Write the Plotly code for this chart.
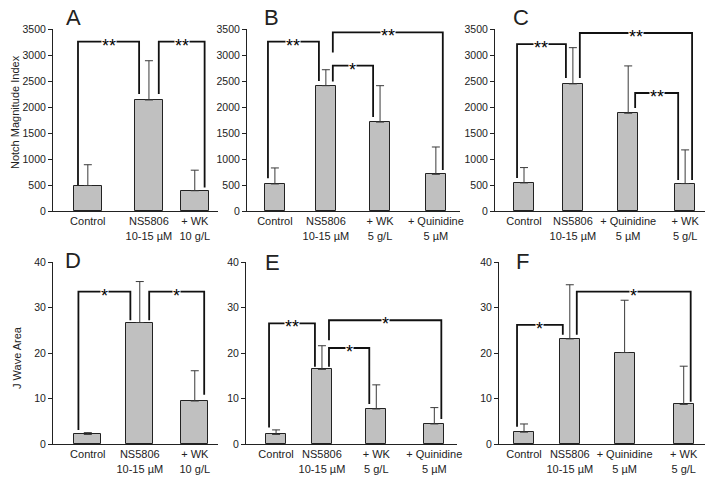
import plotly.graph_objects as go

# ---------------- data ----------------
cats_A = ["Control", "NS5806<br>10-15 µM", "+ WK<br>10 g/L"]
cats_B = ["Control", "NS5806<br>10-15 µM", "+ WK<br>5 g/L", "+ Quinidine<br>5 µM"]
cats_C = ["Control", "NS5806<br>10-15 µM", "+ Quinidine<br>5 µM", "+ WK<br>5 g/L"]

nmi_A = [490, 2135, 390]
nmi_A_err = [400, 755, 395]
nmi_B = [520, 2410, 1710, 705]
nmi_B_err = [308, 307, 700, 526]
nmi_C = [540, 2445, 1880, 527]
nmi_C_err = [295, 696, 910, 648]

jwa_D = [2.1, 26.7, 9.45]
jwa_D_err = [0.4, 9.0, 6.65]
jwa_E = [2.1, 16.4, 7.7, 4.4]
jwa_E_err = [1.0, 5.2, 5.3, 3.6]
jwa_F = [2.6, 23.1, 20.1, 8.7]
jwa_F_err = [1.8, 11.9, 11.5, 8.4]

# significance brackets: (bar i, side i, bar j, side j, level, leg bottom i, leg bottom j, label)
sig_A = [(0, -1, 1, -1, 3256, 500, 2250, "**"), (1, 1, 2, 1, 3256, 2250, 450, "**")]
sig_B = [(0, -1, 1, -1, 3256, 630, 2500, "**"), (1, 1, 3, 1, 3436, 3050, 790, "**"),
         (1, 1, 2, -1, 2795, 2490, 1810, "*")]
sig_C = [(0, -1, 1, -1, 3211, 635, 2558, "**"), (1, 1, 3, 1, 3423, 2558, 596, "**"),
         (2, 1, 3, -1, 2269, 1981, 596, "**")]
sig_D = [(0, -1, 1, -1, 33.5, 3.1, 27.2, "*"), (1, 1, 2, 1, 33.5, 27.2, 10.8, "*")]
sig_E = [(0, -1, 1, -1, 26.5, 3.6, 17.0, "**"), (1, 1, 3, 1, 27.2, 22.8, 5.5, "*"),
         (1, 1, 2, -1, 21.1, 17.0, 8.8, "*")]
sig_F = [(0, -1, 1, -1, 26.2, 3.8, 24.0, "*"), (1, 1, 3, 1, 33.5, 24.0, 9.3, "*")]

# ---------------- layout (positions/styles) ----------------
W, H = 714, 488
FONT = "Liberation Sans, Arial, sans-serif"
BAR_FILL = "#c0c0c0"
TXT = "#222222"

panels = [
    # name, cats, vals, errs, sigs, slot positions, x range, bar width, x px domain, row, yrange, dtick, letter pos
    ("A", cats_A, nmi_A, nmi_A_err, sig_A, [0, 1, 1.75], [-0.57, 2.13], 0.46, (53, 218), 1, [0, 3500], 500, (73, 18)),
    ("B", cats_B, nmi_B, nmi_B_err, sig_B, [0, 0.95, 1.96, 3], [-0.52, 3.45], 0.37, (247, 460), 1, [0, 3500], 500, (271, 18)),
    ("C", cats_C, nmi_C, nmi_C_err, sig_C, [0, 0.91, 1.94, 3], [-0.54, 3.37], 0.37, (495, 705), 1, [0, 3500], 500, (521, 18)),
    ("D", cats_A, jwa_D, jwa_D_err, sig_D, [0, 0.85, 1.75], [-0.57, 2.13], 0.44, (53, 218), 2, [0, 40], 10, (73, 260)),
    ("E", cats_B, jwa_E, jwa_E_err, sig_E, [0, 0.87, 1.9, 3], [-0.57, 3.43], 0.38, (246, 457), 2, [0, 40], 10, (272, 262)),
    ("F", cats_C, jwa_F, jwa_F_err, sig_F, [0, 0.86, 1.89, 3], [-0.47, 3.40], 0.375, (499, 705), 2, [0, 40], 10, (522, 261)),
]
row_dom = {1: (29, 211), 2: (262, 444)}

fig = go.Figure()
annotations = []
layout_axes = {}

for k, (name, cats, vals, errs, sigs, pos, xr, bw, xpx, row, yr, dt, lp) in enumerate(panels):
    idx = "" if k == 0 else str(k + 1)
    xa, ya = "x" + idx, "y" + idx
    fig.add_trace(go.Bar(
        x=pos, y=vals, width=bw, xaxis=xa, yaxis=ya,
        marker=dict(color=BAR_FILL, line=dict(color="#222222", width=1)),
        error_y=dict(type="data", array=errs, arrayminus=[0] * len(errs), symmetric=False,
                     color="#3a3a3a", thickness=1, width=4),
        showlegend=False, hoverinfo="skip"))
    off = 0.35 * bw
    for (i, si, j, sj, lev, bi, bj, lab) in sigs:
        x1 = pos[i] + si * off
        x2 = pos[j] + sj * off
        fig.add_trace(go.Scatter(
            x=[x1, x1, x2, x2], y=[bi, lev, lev, bj], mode="lines",
            line=dict(color="#111111", width=1.8), xaxis=xa, yaxis=ya,
            showlegend=False, hoverinfo="skip"))
        annotations.append(dict(
            x=(x1 + x2) / 2, y=lev, xref=xa, yref=ya, text=lab, showarrow=False,
            font=dict(family=FONT, size=18, color="#000000"), bgcolor="white",
            borderpad=0, yshift=-4, xanchor="center", yanchor="middle"))
    y0, y1 = row_dom[row]
    layout_axes["xaxis" + idx] = dict(
        domain=[xpx[0] / W, xpx[1] / W], range=xr, anchor=ya, automargin=False,
        tickvals=pos, ticktext=cats, ticks="", showline=True, linecolor="#222222",
        linewidth=1, showgrid=False, zeroline=False,
        tickfont=dict(family=FONT, size=11, color=TXT), fixedrange=True)
    layout_axes["yaxis" + idx] = dict(
        domain=[1 - y1 / H, 1 - y0 / H], range=yr, dtick=dt, anchor=xa, automargin=False,
        ticks="outside", ticklen=4, tickwidth=1, tickcolor="#222222",
        showline=True, linecolor="#222222", linewidth=1, showgrid=False, zeroline=False,
        tickfont=dict(family=FONT, size=10.5, color=TXT), fixedrange=True)
    annotations.append(dict(
        x=lp[0] / W, y=1 - lp[1] / H, xref="paper", yref="paper", text=name,
        showarrow=False, font=dict(family=FONT, size=22, color=TXT),
        xanchor="center", yanchor="middle"))

annotations.append(dict(x=15 / W, y=1 - 112 / H, xref="paper", yref="paper",
                        text="Notch Magnitude Index", textangle=-90, showarrow=False,
                        font=dict(family=FONT, size=11, color=TXT), xanchor="center", yanchor="middle"))
annotations.append(dict(x=17 / W, y=1 - 358 / H, xref="paper", yref="paper",
                        text="J Wave Area", textangle=-90, showarrow=False,
                        font=dict(family=FONT, size=11, color=TXT), xanchor="center", yanchor="middle"))

fig.update_layout(
    width=W, height=H, margin=dict(l=0, r=0, t=0, b=0),
    paper_bgcolor="white", plot_bgcolor="white",
    font=dict(family=FONT, color=TXT), annotations=annotations, bargap=0,
    **layout_axes)

fig.write_html("out.html", config={"displayModeBar": False},
               post_script="document.body.style.margin='0px';")
